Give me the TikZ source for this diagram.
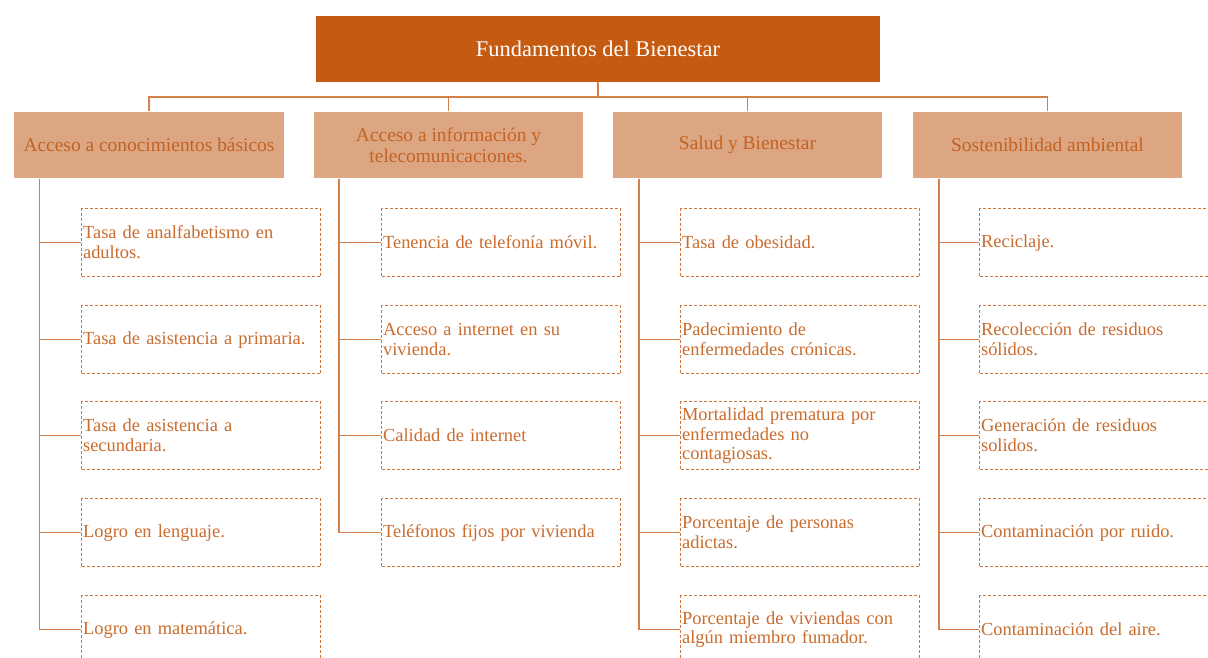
\documentclass[tikz,border=0pt]{standalone}
\usepackage{fontspec}
\setmainfont{Liberation Serif}
\usetikzlibrary{calc}

\definecolor{titlebg}{RGB}{197,90,17}
\definecolor{catbg}{RGB}{221,166,130}
\definecolor{cattext}{RGB}{196,98,36}
\definecolor{itemline}{RGB}{208,118,58}
\definecolor{itemtext}{RGB}{202,108,46}
\definecolor{linkc}{RGB}{212,128,72}

\tikzset{
  titlebox/.style={fill=titlebg,text=white,minimum width=564bp,minimum height=66bp,
    inner sep=0pt,font=\fontsize{22.5}{26}\selectfont},
  catbox/.style={fill=catbg,draw=white,line width=1bp,text=cattext,minimum width=270bp,
    minimum height=66bp,inner sep=0pt,align=center,font=\fontsize{19.5}{21}\selectfont},
  itembox/.style={draw=itemline,dash pattern=on 3bp off 2bp,line width=1.2bp,text=itemtext,
    text width=236bp,minimum height=68bp,inner xsep=1.5bp,inner ysep=0pt,align=left,
    anchor=north west,font=\fontsize{18.5}{20}\selectfont},
  link/.style={draw=linkc,line width=1.6bp}
}

\begin{document}
\begin{tikzpicture}[x=1bp,y=-1bp]

\fill[white] (0,0) rectangle (1208,658);
\useasboundingbox (0,0) rectangle (1208,658);

\node[titlebox] (fund) at (598,49) {Fundamentos del Bienestar};

\node[catbox] (cono) at (149,145) {Acceso a conocimientos básicos};
\node[catbox] (info) at (448.5,145) {Acceso a información y\\telecomunicaciones.};
\node[catbox] (salud) at (747.5,145) {Salud y Bienestar};
\node[catbox] (soste) at (1047.5,145) {Sostenibilidad ambiental};

\draw[link] (fund.south) -- ++(0,15) coordinate (bar) -| (cono.north);
\draw[link] (bar) -| (info.north);
\draw[link] (bar) -| (salud.north);
\draw[link] (bar) -| (soste.north);

\node[itembox] (cono1) at (81,208) {Tasa de analfabetismo en\\adultos.};
\node[itembox] (cono2) at (81,305) {Tasa de asistencia a primaria.};
\node[itembox] (cono3) at (81,401) {Tasa de asistencia a\\secundaria.};
\node[itembox] (cono4) at (81,498) {Logro en lenguaje.};
\node[itembox] (cono5) at (81,595) {Logro en matemática.};

\node[itembox] (info1) at (381,208) {Tenencia de telefonía móvil.};
\node[itembox] (info2) at (381,305) {Acceso a internet en su\\vivienda.};
\node[itembox] (info3) at (381,401) {Calidad de internet};
\node[itembox] (info4) at (381,498) {Teléfonos fijos por vivienda};

\node[itembox] (salud1) at (680,208) {Tasa de obesidad.};
\node[itembox] (salud2) at (680,305) {Padecimiento de\\enfermedades crónicas.};
\node[itembox] (salud3) at (680,401) {Mortalidad prematura por\\enfermedades no\\contagiosas.};
\node[itembox] (salud4) at (680,498) {Porcentaje de personas\\adictas.};
\node[itembox] (salud5) at (680,595) {Porcentaje de viviendas con\\algún miembro fumador.};

\node[itembox] (soste1) at (979,208) {Reciclaje.};
\node[itembox] (soste2) at (979,305) {Recolección de residuos\\sólidos.};
\node[itembox] (soste3) at (979,401) {Generación de residuos\\solidos.};
\node[itembox] (soste4) at (979,498) {Contaminación por ruido.};
\node[itembox] (soste5) at (979,595) {Contaminación del aire.};

\foreach \i in {1,...,5}
  \draw[link] ([xshift=26bp]cono.south west) |- (cono\i.west);
\foreach \i in {1,...,4}
  \draw[link] ([xshift=26bp]info.south west) |- (info\i.west);
\foreach \i in {1,...,5}
  \draw[link] ([xshift=27bp]salud.south west) |- (salud\i.west);
\foreach \i in {1,...,5}
  \draw[link] ([xshift=27bp]soste.south west) |- (soste\i.west);

\end{tikzpicture}
\end{document}
